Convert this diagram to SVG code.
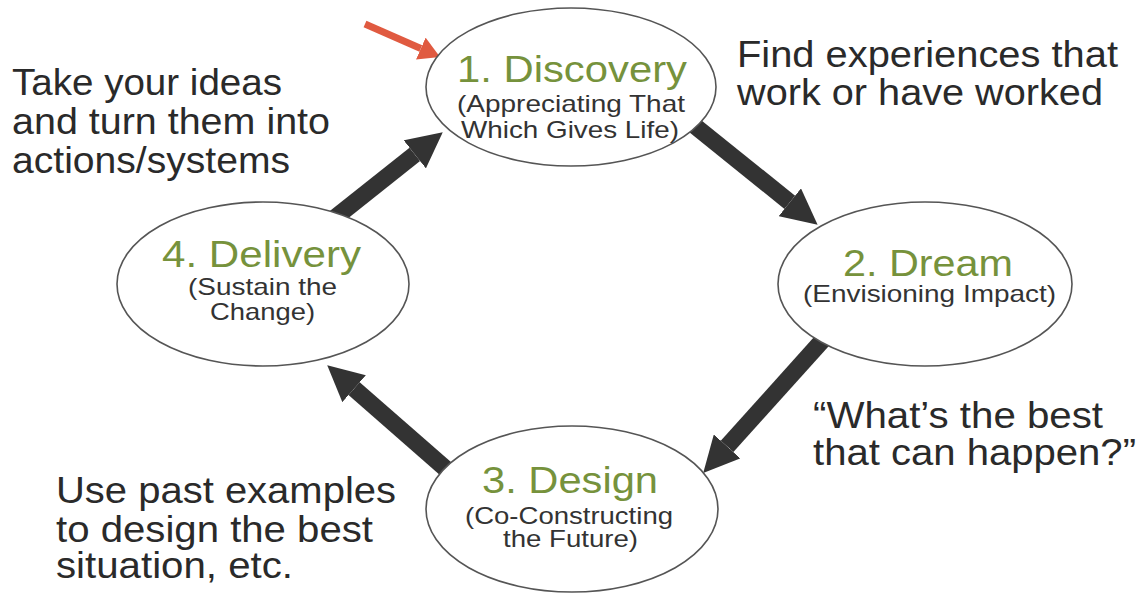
<svg xmlns="http://www.w3.org/2000/svg" width="1140" height="594" viewBox="0 0 1140 594">
  <style>
    .node ellipse { fill: #ffffff; stroke: #555555; stroke-width: 1.6; }
    .title { font-family: "Liberation Sans", Arial, sans-serif; font-size: 37px; fill: #76923C; }
    .sub { font-family: "Liberation Sans", Arial, sans-serif; font-size: 24px; fill: #333333; }
    .note { font-family: "Liberation Sans", Arial, sans-serif; font-size: 36px; fill: #2a2a2a; }
    .flow { stroke: #333333; stroke-width: 17; fill: none; marker-end: url(#head); }
    .pointer { stroke: #E05A40; stroke-width: 7; fill: none; marker-end: url(#redhead); }
  </style>
  <defs>
    <marker id="head" viewBox="0 -1.05 2.1 2.1" markerWidth="2.1" markerHeight="2.1" refX="0" refY="0" orient="auto" markerUnits="strokeWidth">
      <path d="M0,-1.05 L2.1,0 L0,1.05 Z" fill="#333333"/>
    </marker>
    <marker id="redhead" viewBox="0 -1.7 3 3.4" markerWidth="3" markerHeight="3.4" refX="0" refY="0" orient="auto" markerUnits="strokeWidth">
      <path d="M0,-1.7 L3,0 L0,1.7 Z" fill="#E05A40"/>
    </marker>
  </defs>
  <rect width="1140" height="594" fill="#ffffff"/>

  <g id="connectors">
    <line class="flow" x1="690" y1="122" x2="789.8" y2="202.3"/>
    <line class="flow" x1="830" y1="332" x2="727.1" y2="446.4"/>
    <line class="flow" x1="470" y1="490" x2="354.1" y2="388.7"/>
    <line class="flow" x1="302" y1="244" x2="414.8" y2="154.4"/>
  </g>

  <g id="pointer-arrow">
    <line class="pointer" x1="365" y1="24" x2="420.8" y2="48.5"/>
  </g>

  <g id="node-discovery" class="node">
    <ellipse cx="571" cy="87" rx="145" ry="79"/>
    <text class="title" x="457" y="82" textLength="230" lengthAdjust="spacingAndGlyphs">1. Discovery</text>
    <text class="sub" x="457" y="112" textLength="228" lengthAdjust="spacingAndGlyphs">(Appreciating That</text>
    <text class="sub" x="461" y="138" textLength="218" lengthAdjust="spacingAndGlyphs">Which Gives Life)</text>
  </g>

  <g id="node-dream" class="node">
    <ellipse cx="925" cy="284" rx="147" ry="82"/>
    <text class="title" x="843" y="276" textLength="170" lengthAdjust="spacingAndGlyphs">2. Dream</text>
    <text class="sub" x="803" y="302" textLength="253" lengthAdjust="spacingAndGlyphs">(Envisioning Impact)</text>
  </g>

  <g id="node-design" class="node">
    <ellipse cx="572" cy="509" rx="146" ry="83"/>
    <text class="title" x="482" y="493" textLength="176" lengthAdjust="spacingAndGlyphs">3. Design</text>
    <text class="sub" x="465" y="524" textLength="208" lengthAdjust="spacingAndGlyphs">(Co-Constructing</text>
    <text class="sub" x="503" y="547" textLength="135" lengthAdjust="spacingAndGlyphs">the Future)</text>
  </g>

  <g id="node-delivery" class="node">
    <ellipse cx="263" cy="284" rx="146" ry="82"/>
    <text class="title" x="162" y="267" textLength="199" lengthAdjust="spacingAndGlyphs">4. Delivery</text>
    <text class="sub" x="188" y="295" textLength="149" lengthAdjust="spacingAndGlyphs">(Sustain the</text>
    <text class="sub" x="210" y="320" textLength="105" lengthAdjust="spacingAndGlyphs">Change)</text>
  </g>

  <g id="notes">
    <text class="note" x="12" y="95" textLength="270" lengthAdjust="spacingAndGlyphs">Take your ideas</text>
    <text class="note" x="12" y="134" textLength="318" lengthAdjust="spacingAndGlyphs">and turn them into</text>
    <text class="note" x="12" y="173" textLength="278" lengthAdjust="spacingAndGlyphs">actions/systems</text>

    <text class="note" x="737" y="67" textLength="381" lengthAdjust="spacingAndGlyphs">Find experiences that</text>
    <text class="note" x="737" y="105" textLength="366" lengthAdjust="spacingAndGlyphs">work or have worked</text>

    <text class="note" x="813" y="428" textLength="290" lengthAdjust="spacingAndGlyphs">“What’s the best</text>
    <text class="note" x="813" y="465" textLength="323" lengthAdjust="spacingAndGlyphs">that can happen?”</text>

    <text class="note" x="56" y="503" textLength="340" lengthAdjust="spacingAndGlyphs">Use past examples</text>
    <text class="note" x="56" y="542" textLength="317" lengthAdjust="spacingAndGlyphs">to design the best</text>
    <text class="note" x="56" y="578" textLength="237" lengthAdjust="spacingAndGlyphs">situation, etc.</text>
  </g>
</svg>
